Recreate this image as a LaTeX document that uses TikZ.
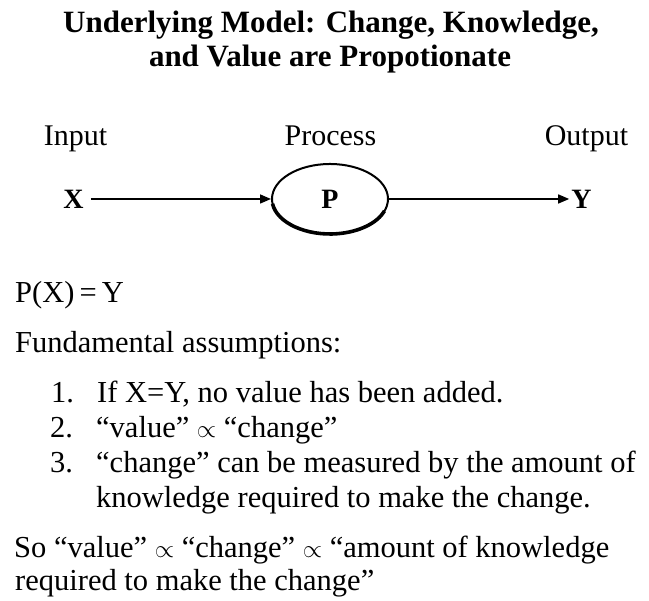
\documentclass[tikz,border=0pt]{standalone}
\usepackage{fontspec}
\setmainfont{Liberation Serif}
\usetikzlibrary{arrows.meta,shapes.geometric}
\begin{document}
\begin{tikzpicture}[x=1pt,y=1pt,
  body/.style={inner sep=0pt, anchor=base west, font=\fontsize{30.5}{36}\selectfont},
  ttl/.style={inner sep=0pt, anchor=base, font=\bfseries\fontsize{31}{36}\selectfont},
  lbl/.style={inner sep=0pt, anchor=base, font=\fontsize{30}{36}\selectfont},
  var/.style={inner sep=0pt, font=\bfseries\fontsize{28}{34}\selectfont},
  procbox/.style={draw, ellipse, line width=2pt, minimum width=116pt, minimum height=70pt, inner sep=0pt, font=\bfseries\fontsize{28}{34}\selectfont},
  flow/.style={line width=1.5pt, -{Triangle[length=11pt,width=9pt]}}]
\useasboundingbox (0,0) rectangle (649,601);
% title
\node[ttl] (t1) at (331,568) {Underlying Model: Change, Knowledge,};
\node[ttl] (t2) at (330,534) {and Value are Propotionate};
% diagram labels
\node[lbl] (in) at (75.5,455) {Input};
\node[lbl] (pr) at (330.5,455) {Process};
\node[lbl] (out) at (586.5,455) {Output};
% diagram
\node[var] (X) at (73.5,402) {X};
\node[procbox] (P) at (330,402) {P};
\node[var] (Y) at (581.5,402) {Y};
\draw[line width=3.6pt] (P.center) ++(188:58 and 35) arc[start angle=188, end angle=340, x radius=58, y radius=35];
\draw[flow, shorten <=7pt] (X) -- (P);
\draw[flow, shorten >=2pt] (P) -- (Y);
% text
\node[body] (eq) at (15,298) {P(X)\,=\,Y};
\node[body] (fa) at (15,248) {Fundamental assumptions:};
\node[body] (n1) at (51,198) {1.};
\node[body] (i1) at (97,198) {If X=Y, no value has been added.};
\node[body] (n2) at (50,163) {2.};
\node[body] (i2) at (96,163) {“value” $\propto$ “change”};
\node[body] (n3) at (50,128) {3.};
\node[body] (i3) at (96,128) {“change” can be measured by the amount of};
\node[body] (i3b) at (96,93) {knowledge required to make the change.};
\node[body] (so1) at (14,43) {So “value” $\propto$ “change” $\propto$ “amount of knowledge};
\node[body] (so2) at (15,10) {required to make the change”};
\end{tikzpicture}
\end{document}
